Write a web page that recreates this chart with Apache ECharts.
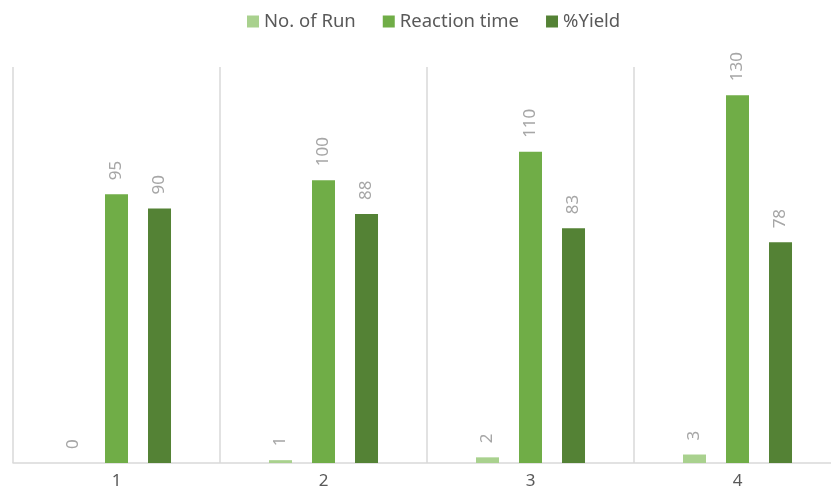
<!DOCTYPE html>
<html>
<head>
<meta charset="utf-8">
<script src="https://cdn.jsdelivr.net/npm/echarts@6/dist/echarts.min.js"></script>
<style>
  html, body { margin: 0; padding: 0; background: #fff; overflow: hidden; }
  #main { width: 900px; height: 496px; }
</style>
</head>
<body>
<div id="main"></div>
<script>
var categories = ['1', '2', '3', '4'];
var runs = [0, 1, 2, 3];
var reactionTime = [95, 100, 110, 130];
var yieldPct = [90, 88, 83, 78];

var colors = ['#a9d18e', '#70ad47', '#548235'];
var font = 'Noto Sans';

// the plot area runs a little past the right edge of the window
var myChart = echarts.init(document.getElementById('main'));

var barLabel = {
    show: true,
    position: 'top',
    rotate: 90,
    align: 'left',
    verticalAlign: 'middle',
    distance: 14,
    color: '#a6a6a6',
    fontSize: 17,
    fontFamily: font
};

function bar(name, data) {
    return {
        name: name,
        type: 'bar',
        data: data,
        barWidth: 23,
        barGap: '87%',
        label: barLabel
    };
}

var option = {
    color: colors,
    animation: false,
    legend: {
        top: 7,
        left: 242,
        itemWidth: 12,
        itemHeight: 12,
        itemGap: 27,
        icon: 'rect',
        textStyle: { color: '#595959', fontSize: 18.5, fontFamily: font }
    },
    grid: { left: 13, top: 67, width: 828, height: 396, containLabel: false },
    xAxis: {
        type: 'category',
        data: categories,
        axisLine: { lineStyle: { color: '#d9d9d9', width: 1.5 } },
        axisTick: { show: false },
        axisLabel: { color: '#595959', fontSize: 17, fontFamily: font, margin: 10 },
        splitLine: { show: true, lineStyle: { color: '#d9d9d9', width: 1.5 } }
    },
    yAxis: {
        type: 'value',
        min: 0,
        max: 140,
        show: false,
        splitLine: { show: false }
    },
    series: [
        bar('No. of Run', runs),
        bar('Reaction time', reactionTime),
        bar('%Yield', yieldPct)
    ]
};

option && myChart.setOption(option);
</script>
</body>
</html>
